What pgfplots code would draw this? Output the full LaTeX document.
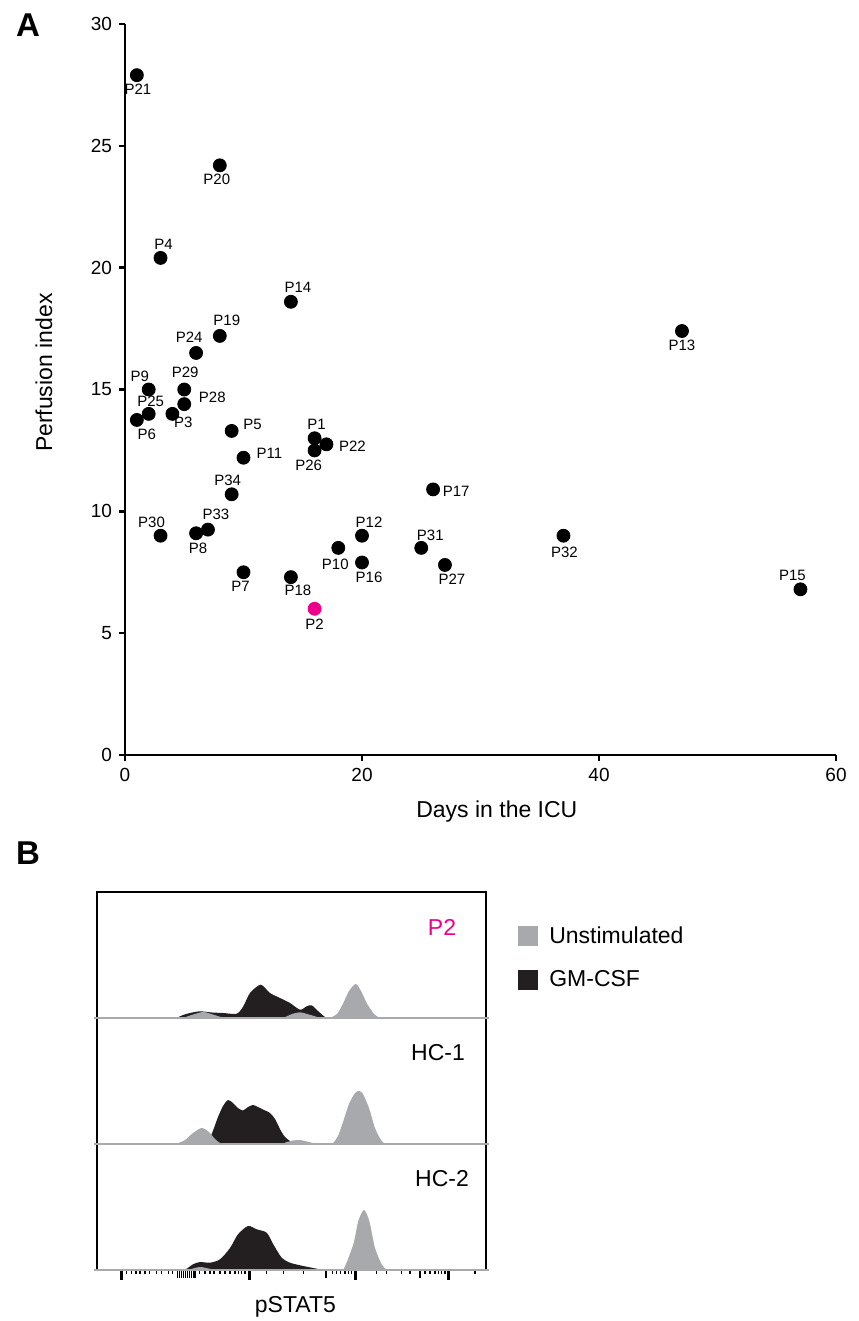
\documentclass[border=0pt]{standalone}
\usepackage{fontspec}
\setmainfont{Liberation Sans}
\usepackage{pgfplots}
\usepackage{pgfplotstable}
\pgfplotsset{compat=1.18}
\definecolor{ugrey}{HTML}{A7A9AC}
\definecolor{ublack}{HTML}{231F20}
\definecolor{pmag}{HTML}{EC008C}

% x = days in ICU, y = perfusion index, dx/dy = label offset (px, dy upward)
\pgfplotstableread{
x y lab dx dy
1 27.9 P21 1 -14
8 24.2 P20 -3 -14
3 20.4 P4 3 14
14 18.6 P14 7 14
47 17.4 P13 0 -14
8 17.2 P19 7 16
6 16.5 P24 -7 16
2 15.0 P9 -9 13
5 15.0 P29 1 17
5 14.4 P28 28 7
2 14.0 P25 2 13
1 13.75 P6 10 -14
4 14.0 P3 11 -8
9 13.3 P5 21 7
16 13.0 P1 2 14
17 12.75 P22 26 -2
16 12.5 P26 -6 -15
10 12.2 P11 26 4
26 10.9 P17 23 -2
9 10.7 P34 -4 14
3 9.0 P30 -9 13
7 9.25 P33 8 15
6 9.1 P8 2 -15
20 9.0 P12 7 13
37 9.0 P32 1 -17
18 8.5 P10 -3 -16
25 8.5 P31 9 13
20 7.9 P16 7 -15
27 7.8 P27 7 -14
10 7.5 P7 -3 -14
14 7.3 P18 7 -13
57 6.8 P15 -8 14
}\ptsA
\pgfplotstableread{
x y lab dx dy
16 6.0 P2 0 -15
}\ptsP

\pgfplotsset{
  hist/.style={anchor=south west, scale only axis, width=194.5pt, height=63pt,
    xmin=0, xmax=389, ymin=0, ymax=126, clip=false,
    axis line style={line width=0.8pt, black},
    xtick=\empty, ytick=\empty},
  ufill/.style={fill=ugrey, draw=none, smooth, tension=0.45, forget plot},
  bfill/.style={fill=ublack, draw=none, smooth, tension=0.45, forget plot},
  base/.style={ugrey, line width=1.3pt, forget plot},
}
\tikzset{rowlab/.style={font=\fontsize{11.5}{13}\selectfont, anchor=center}}

\begin{document}
\begin{tikzpicture}
\useasboundingbox (0,0) rectangle (429pt,-660.5pt);

\node[font=\bfseries\fontsize{16.5}{18}\selectfont] at (14pt,-12.5pt) {A};
\node[font=\bfseries\fontsize{16.5}{18}\selectfont] at (14pt,-426.5pt) {B};

\begin{axis}[
  at={(62.5pt,-377.5pt)}, anchor=south west, scale only axis,
  width=355.5pt, height=365.5pt,
  xmin=0, xmax=60, ymin=0, ymax=30,
  axis lines=left, axis line style={-, line width=1.3pt},
  xtick={0,20,40,60}, ytick={0,5,...,30},
  tick align=outside, major tick length=3pt,
  every tick/.style={black, line width=1.3pt},
  tick label style={font=\fontsize{9.5}{11}\selectfont},
  /pgf/number format/assume math mode=true,
  xlabel={Days in the ICU}, ylabel={Perfusion index},
  label style={font=\fontsize{11.5}{13}\selectfont},
  xlabel style={at={(axis description cs:0.523,-0.078)}, anchor=center},
  ylabel style={at={(axis description cs:-0.114,0.523)}, anchor=center},
  clip=false,
  point meta=explicit symbolic,
  visualization depends on={\thisrow{dx} \as \dx},
  visualization depends on={\thisrow{dy} \as \dy},
  nodes near coords,
  nodes near coords style={anchor=center, inner sep=0pt,
    xshift=\dx*0.5pt, yshift=\dy*0.5pt,
    font=\fontsize{7.5}{9}\selectfont, black},
]
\addplot[only marks, mark=*, mark size=3.25pt, black] table[x=x, y=y, meta=lab] {\ptsA};
\addplot[only marks, mark=*, mark size=3.25pt, pmag,
  nodes near coords style={black}] table[x=x, y=y, meta=lab] {\ptsP};
\end{axis}

% Panel B: bottom row first so upper baselines cover the joins
\begin{axis}[hist, at={(48.5pt,-635pt)},
  xtick={24.7,152.3,258.7,351.3}, xticklabels={},
  minor xtick={29.7,34.7,39,43,48,52.3,59.7,64.7,71.3,75.7,
    102.3,108,113,117,123,128,133,138,141.3,144.7,148,
    169.7,186.3,206.3,235.7,239.7,243.7,248,251.3,254.7,
    279.7,289.7,304.7,313,328,333,338,341.3,344.7,348,378},
  extra x ticks={80.3,82.3,84.3,86.3,88.3,90.3,92.3,94.3,96.3,98,229,323},
  extra x tick labels={},
  extra x tick style={major tick length=4pt, every major tick/.append style={line width=0.8pt}},
  xtick pos=left, tick align=outside,
  major tick length=5pt, minor tick length=2pt,
  every major tick/.append style={black, line width=1.5pt},
  every minor tick/.append style={black, line width=0.6pt},
  xlabel={pSTAT5},
  xlabel style={font=\fontsize{11.5}{13}\selectfont, at={(axis description cs:0.51,-0.294)}, anchor=center},
]
\addplot[bfill] coordinates {(82,0) (88,0.3) (96,5.7) (103,8) (113,7.3) (123,10.7) (133,22)
  (141,35.7) (151,44) (159.7,40.7) (169.7,37.3) (176.3,25.7) (184.7,12.3) (193,7.3)
  (206.3,4) (219.7,1.3) (226,0) (232,0)};
\addplot[ufill] coordinates {(85,0) (92,0.5) (103,3) (114,1) (122,0) (240,0) (246.3,0.3)
  (256.3,25.7) (261.3,49) (267,60) (272.3,49) (278,22) (284.7,5.7) (289.7,0.3) (296,0)};
\addplot[base] coordinates {(-3,0) (392,0)};
\node[rowlab] at (axis cs:345,91) {HC-2};
\end{axis}

\begin{axis}[hist, at={(48.5pt,-572pt)}]
\addplot[bfill] coordinates {(104,0) (109.7,0.5) (113,6) (117,16) (121,27) (126,38) (131,44)
  (136,41) (141,36) (146,33.5) (151,37) (156,39) (161,37) (166,34.5) (173,31)
  (178,25) (184,13) (188,7) (193,3) (198,0.5) (203,0)};
\addplot[ufill] coordinates {(72,0) (79.7,0.5) (88,4) (96,11) (104.7,16) (112,12) (118,5)
  (123,1) (128,0) (182,0) (188,1.5) (196,3.5) (203,4) (210,2.5) (218,0.5) (226,0)
  (231,0) (236,1) (241,8) (246,22) (252,40) (258,51) (262.3,53) (266,50) (272,36)
  (278,16) (284,4) (288,0.5) (294,0)};
\addplot[base] coordinates {(-3,0) (392,0)};
\node[rowlab] at (axis cs:341,91) {HC-1};
\end{axis}

\begin{axis}[hist, at={(48.5pt,-509pt)},
  legend image code/.code={\fill[#1, draw=none] (0pt,-5pt) rectangle (10pt,5pt);},
  legend cell align=left,
  legend style={at={(axis description cs:1.082,0.76)}, anchor=north west,
    draw=none, fill=none, inner sep=0pt, row sep=8pt,
    /tikz/every odd column/.append style={column sep=3.5pt},
    font=\fontsize{11.5}{13}\selectfont},
]
\addlegendimage{fill=ugrey}
\addlegendentry{Unstimulated}
\addlegendimage{fill=ublack}
\addlegendentry{GM-CSF}
\addplot[bfill] coordinates {(74,0) (79.7,0.3) (86,3) (93,5) (103,6.7) (115,5.5) (126.3,5)
  (139.7,4.3) (146.3,11.7) (153,25) (163.7,33.3) (173,25) (183,20) (193,15) (203,8.3)
  (209.7,11.7) (214.7,12.7) (221.3,6.7) (228,1) (231.3,0) (236,0)};
\addplot[ufill] coordinates {(80,0) (86.3,0.3) (96,3.5) (106.3,6) (116,3.5) (126.3,0.3)
  (132,0) (180,0) (186.3,0.3) (195,4) (203,5.7) (212,3.5) (223,0.3) (228,0)
  (233,0.3) (240,4) (246.3,15) (252,27) (258.7,34) (264,27) (269.7,15) (277,4)
  (283,0.3) (289,0)};
\addplot[base] coordinates {(-3,0) (392,0)};
\node[rowlab, text=pmag] at (axis cs:345,91) {P2};
\end{axis}
\end{tikzpicture}
\end{document}
